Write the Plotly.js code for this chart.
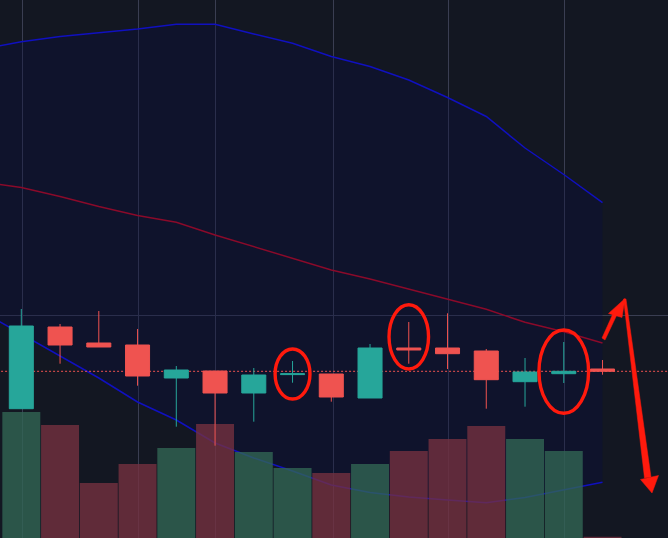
<!DOCTYPE html>
<html>
<head>
<meta charset="utf-8">
<script src="https://cdn.plot.ly/plotly-3.0.1.min.js"></script>
<style>html,body{margin:0;padding:0;background:#131722;}#chart{width:668px;height:538px;}</style>
</head>
<body>
<div id="chart"></div>
<script>
// ---- candles (index 0..15) ----
const candleIdx = [0,1,2,3,4,5,6,7,8,9,10,11,12,13,14,15];
const opens  = [129.3,211,195,193,160,167,145,163.4,164,140,190,190,187,156.3,164.3,169];
const highs  = [229,214,227,209,172,167,170,177,164,194,216,224.7,189,180,196,178];
const lows   = [129.3,174.3,191,152.3,111.3,92.3,116.3,155.3,136.3,140,174.3,169,129.3,131.3,155,163.3];
const closes = [212,193,191,162,168,145,163,164.2,141,190,188,184.3,158.3,166,166.7,166.7];

// ---- volume ----
const volumes = [12600,11300,5500,7400,9000,11400,8600,7000,6500,7400,8700,9900,11200,9900,8700,130];

// ---- Bollinger bands (index -1..15) ----
const bandIdx = [-1,0,1,2,3,4,5,6,7,8,9,10,11,12,13,14,15];
const upperBand  = [489,496.3,501.5,505,509,513.7,513.7,504,494.7,481.5,471.5,458,440.5,421.5,390,363.5,335.3];
const middleBand = [356,350.5,341.5,331.5,322.5,315.7,303,291.5,279.5,268,259,249,239.3,228.7,215.7,206.3,195];
const lowerBand  = [226,204,182,160,136,118,95,80,67,53,45.5,41,38,35.3,40.5,48,55.7];

// ---- grid positions ----
const gridIdx = [0.02,3.02,5.02,8.05,11.02,14.02];
const gridPrice = [223];

// ---- highlighted candles (circled) ----
const circled = [
  {i:7,  halfW:0.45, lo:139,   hi:189},
  {i:10, halfW:0.51, lo:169,   hi:233.3},
  {i:14, halfW:0.64, lo:124.7, hi:208}
];

const UP = '#26a69a', DOWN = '#ef5350';
const isUp = closes.map((c,k)=>c>=opens[k]);
const lastClose = closes[closes.length-1];

const traces = [
  {type:'scatter', mode:'lines', x:bandIdx, y:upperBand, line:{color:'#1010c0', width:1.5}, xaxis:'x', yaxis:'y', hoverinfo:'skip'},
  {type:'scatter', mode:'lines', x:bandIdx, y:lowerBand, line:{color:'#1010c0', width:1.5}, fill:'tonexty', fillcolor:'rgba(9,13,64,0.32)', xaxis:'x', yaxis:'y', hoverinfo:'skip'},
  {type:'scatter', mode:'lines', x:bandIdx, y:middleBand, line:{color:'#8a0a2a', width:1.5}, xaxis:'x', yaxis:'y', hoverinfo:'skip'},
  {type:'scatter', mode:'lines', x:[bandIdx[0]-2, candleIdx[candleIdx.length-1]+3], y:[lastClose,lastClose], line:{color:DOWN, width:1, dash:'2px,2px'}, xaxis:'x', yaxis:'y', hoverinfo:'skip'},
  {type:'bar', x:candleIdx, y:volumes, width:0.98,
   marker:{color:isUp.map(u=>u?'rgba(50,102,84,0.78)':'rgba(118,49,64,0.78)'), line:{width:0}},
   xaxis:'x', yaxis:'y2', hoverinfo:'skip'},
  {type:'candlestick', x:candleIdx, open:opens, high:highs, low:lows, close:closes,
   increasing:{line:{color:UP, width:1}, fillcolor:UP},
   decreasing:{line:{color:DOWN, width:1}, fillcolor:DOWN},
   whiskerwidth:0, xaxis:'x', yaxis:'y3', hoverinfo:'skip'}
];

const W = 668, H = 538;
const px = (x)=> x/W, py = (y)=> 1 - y/H;
function poly(pts){ return 'M' + pts.map(p=>px(p[0]).toFixed(5)+','+py(p[1]).toFixed(5)).join(' L') + ' Z'; }
const RED = '#ff1a0d';

const shapes = circled.map(c=>({
  type:'circle', xref:'x', yref:'y', x0:c.i-c.halfW, x1:c.i+c.halfW, y0:c.lo, y1:c.hi,
  line:{color:RED, width:3.4}, layer:'above'
}));
// hand-drawn arrows (annotation, paper coords)
[
  [[602,338],[605,340],[617,314.5],[613.5,312.5]],
  [[608.5,313.5],[625,298.5],[622,317.5]],
  [[623.5,299],[626,299],[651,477],[644.5,478]],
  [[640.5,479.5],[658.5,475.5],[652,493]]
].forEach(p=>shapes.push({type:'path', xref:'paper', yref:'paper', path:poly(p), fillcolor:RED, line:{color:RED, width:0.5}, layer:'above'}));

const layout = {
  width:W, height:H, margin:{l:0,r:0,t:0,b:0,pad:0},
  paper_bgcolor:'#131722', plot_bgcolor:'#131722', showlegend:false,
  boxgap:0.38, boxgroupgap:0,
  xaxis:{range:[-0.55,16.69], tickvals:gridIdx, showticklabels:false, showgrid:true, gridcolor:'#3a3e52', gridwidth:1, zeroline:false, showline:false, rangeslider:{visible:false}, fixedrange:true},
  yaxis:{range:[0,538], tickvals:gridPrice, showticklabels:false, showgrid:true, gridcolor:'#3a3e52', gridwidth:1, zeroline:false, showline:false, fixedrange:true},
  yaxis2:{range:[0,53800], overlaying:'y', showgrid:false, showticklabels:false, zeroline:false, fixedrange:true},
  yaxis3:{range:[0,538], overlaying:'y', showgrid:false, showticklabels:false, zeroline:false, fixedrange:true},
  shapes:shapes
};
Plotly.newPlot('chart', traces, layout, {staticPlot:true, displayModeBar:false});
</script>
</body>
</html>
